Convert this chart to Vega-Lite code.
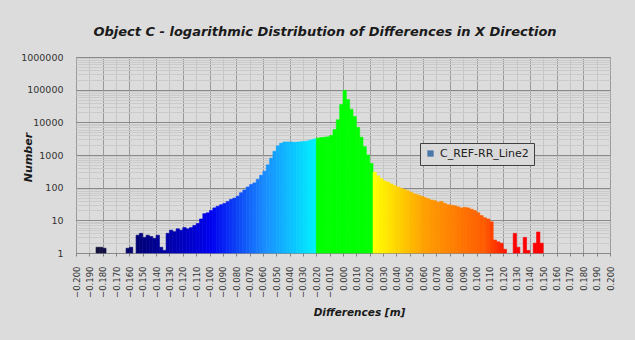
{
  "$schema": "https://vega.github.io/schema/vega-lite/v6.json",
  "width": 534,
  "height": 196,
  "autosize": {"type": "none"},
  "padding": {"left": 76, "top": 57, "right": 25, "bottom": 87},
  "background": "#dcdcdc",
  "config": {
    "view": {"fill": "#d9d9d9", "stroke": "#7f7f7f", "strokeWidth": 1},
    "font": "DejaVu Sans"
  },
  "title": {
    "text": "Object C - logarithmic Distribution of Differences in X Direction",
    "font": "DejaVu Sans",
    "fontSize": 13,
    "fontStyle": "italic",
    "fontWeight": "bold",
    "color": "#1a1a1a",
    "anchor": "middle",
    "offset": 13,
    "dx": -18
  },
  "layer": [
    {
      "data": {
        "values": [
          {"lo": -0.185, "hi": -0.1825, "n": 1.5},
          {"lo": -0.1825, "hi": -0.18, "n": 1.5},
          {"lo": -0.18, "hi": -0.1775, "n": 1.4},
          {"lo": -0.1625, "hi": -0.16, "n": 1.4},
          {"lo": -0.16, "hi": -0.1575, "n": 1.5},
          {"lo": -0.155, "hi": -0.1525, "n": 3.5},
          {"lo": -0.1525, "hi": -0.15, "n": 4},
          {"lo": -0.15, "hi": -0.1475, "n": 3},
          {"lo": -0.1475, "hi": -0.145, "n": 3.5},
          {"lo": -0.145, "hi": -0.1425, "n": 3.2},
          {"lo": -0.1425, "hi": -0.14, "n": 2.8},
          {"lo": -0.14, "hi": -0.1375, "n": 3.5},
          {"lo": -0.1375, "hi": -0.135, "n": 1.5},
          {"lo": -0.135, "hi": -0.1325, "n": 1.2},
          {"lo": -0.1325, "hi": -0.13, "n": 4},
          {"lo": -0.13, "hi": -0.1275, "n": 5},
          {"lo": -0.1275, "hi": -0.125, "n": 4.5},
          {"lo": -0.125, "hi": -0.1225, "n": 5.5},
          {"lo": -0.1225, "hi": -0.12, "n": 5},
          {"lo": -0.12, "hi": -0.1175, "n": 6},
          {"lo": -0.1175, "hi": -0.115, "n": 5.5},
          {"lo": -0.115, "hi": -0.1125, "n": 6},
          {"lo": -0.1125, "hi": -0.11, "n": 7},
          {"lo": -0.11, "hi": -0.1075, "n": 8},
          {"lo": -0.1075, "hi": -0.105, "n": 11},
          {"lo": -0.105, "hi": -0.1025, "n": 16},
          {"lo": -0.1025, "hi": -0.1, "n": 17},
          {"lo": -0.1, "hi": -0.0975, "n": 20},
          {"lo": -0.0975, "hi": -0.095, "n": 24},
          {"lo": -0.095, "hi": -0.0925, "n": 27},
          {"lo": -0.0925, "hi": -0.09, "n": 30},
          {"lo": -0.09, "hi": -0.0875, "n": 33},
          {"lo": -0.0875, "hi": -0.085, "n": 38},
          {"lo": -0.085, "hi": -0.0825, "n": 44},
          {"lo": -0.0825, "hi": -0.08, "n": 48},
          {"lo": -0.08, "hi": -0.0775, "n": 55},
          {"lo": -0.0775, "hi": -0.075, "n": 70},
          {"lo": -0.075, "hi": -0.0725, "n": 85},
          {"lo": -0.0725, "hi": -0.07, "n": 105},
          {"lo": -0.07, "hi": -0.0675, "n": 125},
          {"lo": -0.0675, "hi": -0.065, "n": 140},
          {"lo": -0.065, "hi": -0.0625, "n": 180},
          {"lo": -0.0625, "hi": -0.06, "n": 240},
          {"lo": -0.06, "hi": -0.0575, "n": 320},
          {"lo": -0.0575, "hi": -0.055, "n": 500},
          {"lo": -0.055, "hi": -0.0525, "n": 800},
          {"lo": -0.0525, "hi": -0.05, "n": 1300},
          {"lo": -0.05, "hi": -0.0475, "n": 1900},
          {"lo": -0.0475, "hi": -0.045, "n": 2300},
          {"lo": -0.045, "hi": -0.0425, "n": 2500},
          {"lo": -0.0425, "hi": -0.04, "n": 2500},
          {"lo": -0.04, "hi": -0.0375, "n": 2500},
          {"lo": -0.0375, "hi": -0.035, "n": 2450},
          {"lo": -0.035, "hi": -0.0325, "n": 2500},
          {"lo": -0.0325, "hi": -0.03, "n": 2550},
          {"lo": -0.03, "hi": -0.0275, "n": 2600},
          {"lo": -0.0275, "hi": -0.025, "n": 2700},
          {"lo": -0.025, "hi": -0.0225, "n": 2900},
          {"lo": -0.0225, "hi": -0.02, "n": 3100},
          {"lo": -0.02, "hi": -0.0175, "n": 3300},
          {"lo": -0.0175, "hi": -0.015, "n": 3400},
          {"lo": -0.015, "hi": -0.0125, "n": 3500},
          {"lo": -0.0125, "hi": -0.01, "n": 3600},
          {"lo": -0.01, "hi": -0.0075, "n": 4000},
          {"lo": -0.0075, "hi": -0.005, "n": 6000},
          {"lo": -0.005, "hi": -0.0025, "n": 12000},
          {"lo": -0.0025, "hi": 0.0, "n": 35000},
          {"lo": 0.0, "hi": 0.0025, "n": 95000},
          {"lo": 0.0025, "hi": 0.005, "n": 50000},
          {"lo": 0.005, "hi": 0.0075, "n": 25000},
          {"lo": 0.0075, "hi": 0.01, "n": 15000},
          {"lo": 0.01, "hi": 0.0125, "n": 7000},
          {"lo": 0.0125, "hi": 0.015, "n": 3500},
          {"lo": 0.015, "hi": 0.0175, "n": 1800},
          {"lo": 0.0175, "hi": 0.02, "n": 1000},
          {"lo": 0.02, "hi": 0.0225, "n": 550},
          {"lo": 0.0225, "hi": 0.025, "n": 300},
          {"lo": 0.025, "hi": 0.0275, "n": 230},
          {"lo": 0.0275, "hi": 0.03, "n": 190},
          {"lo": 0.03, "hi": 0.0325, "n": 160},
          {"lo": 0.0325, "hi": 0.035, "n": 148},
          {"lo": 0.035, "hi": 0.0375, "n": 130},
          {"lo": 0.0375, "hi": 0.04, "n": 115},
          {"lo": 0.04, "hi": 0.0425, "n": 105},
          {"lo": 0.0425, "hi": 0.045, "n": 96},
          {"lo": 0.045, "hi": 0.0475, "n": 88},
          {"lo": 0.0475, "hi": 0.05, "n": 80},
          {"lo": 0.05, "hi": 0.0525, "n": 72},
          {"lo": 0.0525, "hi": 0.055, "n": 64},
          {"lo": 0.055, "hi": 0.0575, "n": 60},
          {"lo": 0.0575, "hi": 0.06, "n": 55},
          {"lo": 0.06, "hi": 0.0625, "n": 50},
          {"lo": 0.0625, "hi": 0.065, "n": 46},
          {"lo": 0.065, "hi": 0.0675, "n": 42},
          {"lo": 0.0675, "hi": 0.07, "n": 40},
          {"lo": 0.07, "hi": 0.0725, "n": 36},
          {"lo": 0.0725, "hi": 0.075, "n": 38},
          {"lo": 0.075, "hi": 0.0775, "n": 33},
          {"lo": 0.0775, "hi": 0.08, "n": 30},
          {"lo": 0.08, "hi": 0.0825, "n": 29},
          {"lo": 0.0825, "hi": 0.085, "n": 28},
          {"lo": 0.085, "hi": 0.0875, "n": 26},
          {"lo": 0.0875, "hi": 0.09, "n": 24},
          {"lo": 0.09, "hi": 0.0925, "n": 25},
          {"lo": 0.0925, "hi": 0.095, "n": 24},
          {"lo": 0.095, "hi": 0.0975, "n": 22},
          {"lo": 0.0975, "hi": 0.1, "n": 20},
          {"lo": 0.1, "hi": 0.1025, "n": 17},
          {"lo": 0.1025, "hi": 0.105, "n": 14},
          {"lo": 0.105, "hi": 0.1075, "n": 12},
          {"lo": 0.1075, "hi": 0.11, "n": 11},
          {"lo": 0.11, "hi": 0.1125, "n": 9},
          {"lo": 0.1125, "hi": 0.115, "n": 2.5},
          {"lo": 0.115, "hi": 0.1175, "n": 2.2},
          {"lo": 0.1175, "hi": 0.12, "n": 2},
          {"lo": 0.12, "hi": 0.1225, "n": 1.3},
          {"lo": 0.1275, "hi": 0.13, "n": 4},
          {"lo": 0.13, "hi": 0.1325, "n": 1.5},
          {"lo": 0.135, "hi": 0.1375, "n": 3},
          {"lo": 0.1375, "hi": 0.14, "n": 1.2},
          {"lo": 0.1425, "hi": 0.145, "n": 2},
          {"lo": 0.145, "hi": 0.1475, "n": 4.4},
          {"lo": 0.1475, "hi": 0.15, "n": 2}
        ]
      },
      "mark": {"type": "bar", "strokeWidth": 0.6},
      "encoding": {
        "x": {
          "field": "lo",
          "type": "quantitative",
          "scale": {"domain": [-0.2, 0.2], "nice": false, "zero": false},
          "axis": {
            "values": [-0.2, -0.19, -0.18, -0.17, -0.16, -0.15, -0.14, -0.13, -0.12, -0.11, -0.1, -0.09, -0.08, -0.07, -0.06, -0.05, -0.04, -0.03, -0.02, -0.01, 0, 0.01, 0.02, 0.03, 0.04, 0.05, 0.06, 0.07, 0.08, 0.09, 0.1, 0.11, 0.12, 0.13, 0.14, 0.15, 0.16, 0.17, 0.18, 0.19, 0.2],
            "format": ".3f",
            "labelAngle": 270,
            "labelFont": "DejaVu Sans",
            "labelFontSize": 8.5,
            "labelColor": "#333333",
            "labelPadding": 10,
            "labelOverlap": false,
            "labelFlush": false,
            "ticks": true,
            "tickSize": 3,
            "tickColor": "#808080",
            "domain": false,
            "grid": true,
            "gridColor": {"condition": {"test": "abs(round(datum.value*100)) % 2 == 0", "value": "#9a9a9a"}, "value": "#c4c4c4"},
            "gridWidth": 1,
            "title": "Differences [m]",
            "titleFont": "DejaVu Sans",
            "titleFontSize": 10.5,
            "titleFontStyle": "italic",
            "titleFontWeight": "bold",
            "titleColor": "#1a1a1a",
            "titleX": 283,
            "titleY": 54,
            "titleBaseline": "top"
          }
        },
        "x2": {"field": "hi"},
        "y": {
          "field": "n",
          "type": "quantitative",
          "scale": {"type": "log", "domain": [1, 1000000], "nice": false},
          "axis": {
            "values": [1, 2, 3, 4, 5, 6, 7, 8, 9, 10, 20, 30, 40, 50, 60, 70, 80, 90, 100, 200, 300, 400, 500, 600, 700, 800, 900, 1000, 2000, 3000, 4000, 5000, 6000, 7000, 8000, 9000, 10000, 20000, 30000, 40000, 50000, 60000, 70000, 80000, 90000, 100000, 200000, 300000, 400000, 500000, 600000, 700000, 800000, 900000, 1000000],
            "labelExpr": "abs(log(datum.value)/LN10 - round(log(datum.value)/LN10)) < 0.001 ? format(datum.value, 'd') : ''",
            "labelOverlap": false,
            "labelFont": "DejaVu Sans",
            "labelFontSize": 9.5,
            "labelColor": "#333333",
            "labelPadding": 13,
            "ticks": false,
            "domain": false,
            "grid": true,
            "gridColor": {"condition": {"test": "abs(log(datum.value)/LN10 - round(log(datum.value)/LN10)) < 0.001", "value": "#8a8a8a"}, "value": "#cacaca"},
            "title": "Number",
            "titleFont": "DejaVu Sans",
            "titleFontSize": 11,
            "titleFontStyle": "italic",
            "titleFontWeight": "bold",
            "titleColor": "#1a1a1a",
            "titleAngle": 270,
            "titleX": -43,
            "titleY": 100,
            "titleBaseline": "bottom",
            "titleAlign": "center"
          }
        },
        "y2": {"datum": 1},
        "fill": {
          "field": "lo",
          "type": "quantitative",
          "scale": {
            "domain": [-0.185, -0.15, -0.1, -0.06, -0.0225, -0.02, 0.02, 0.0225, 0.06, 0.105, 0.125],
            "range": ["#14143c", "#000080", "#0000f0", "#1a8cff", "#00f0ff", "#00ff00", "#00ff00", "#ffff00", "#ffa000", "#ff5a00", "#ff0000"],
            "interpolate": "rgb"
          },
          "legend": null
        },
        "stroke": {
          "field": "lo",
          "type": "quantitative",
          "scale": {
            "domain": [-0.185, -0.15, -0.1, -0.06, -0.0225, -0.02, 0.02, 0.0225, 0.06, 0.105, 0.125],
            "range": ["#14143c", "#000080", "#0000f0", "#1a8cff", "#00f0ff", "#00ff00", "#00ff00", "#ffff00", "#ffa000", "#ff5a00", "#ff0000"],
            "interpolate": "rgb"
          },
          "legend": null
        }
      }
    },
    {
      "data": {"values": [{"series": "C_REF-RR_Line2"}]},
      "mark": {"type": "point", "filled": true, "size": 0, "opacity": 0},
      "encoding": {
        "shape": {
          "field": "series",
          "type": "nominal",
          "scale": {"range": ["square"]},
          "legend": {
            "title": null,
            "orient": "none",
            "legendX": 344,
            "legendY": 86,
            "fillColor": "#d9d9d9",
            "strokeColor": "#404040",
            "padding": 5,
            "symbolSize": 40,
            "symbolFillColor": "#3a3a5a",
            "symbolStrokeColor": "#3a3a5a",
            "symbolOpacity": 1,
            "labelFont": "DejaVu Sans",
            "labelFontSize": 11,
            "labelColor": "#222222"
          }
        }
      }
    }
  ]
}
